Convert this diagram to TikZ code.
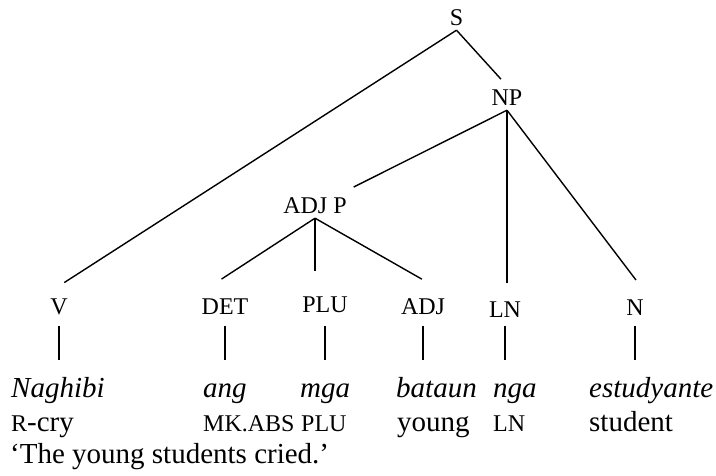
\documentclass[tikz,border=0pt]{standalone}
\usepackage{fontspec}
\setmainfont{Liberation Serif}
\usepackage{tikz}
\usetikzlibrary{calc}

\newcommand{\glsm}[1]{{\fontsize{24}{26}\selectfont #1}}

\begin{document}
\begin{tikzpicture}[x=1pt, y=-1pt,
  cat/.style={font=\fontsize{24}{26}\selectfont, text height=15.8pt, text depth=0pt, inner sep=0pt, outer sep=4.3pt},
  word/.style={anchor=base west, font=\fontsize{29}{32}\selectfont\itshape, text height=20pt, text depth=6pt, inner sep=0pt},
  gloss/.style={anchor=base west, font=\fontsize{29}{32}\selectfont, inner sep=0pt},
  branch/.style={line width=1.4pt},
  tick/.style={line width=1.4pt, shorten <=7pt, shorten >=17pt}]
\useasboundingbox (0,0) rectangle (716,476);
% tree
\node[cat] (S) at (456.5,18) {S};
\node[cat] (NP) at (507,98) {NP};
\node[cat] (ADJP) at (315,206) {ADJ P};
\node[cat] (V) at (59,306.5) {V};
\node[cat] (DET) at (225,307) {DET};
\node[cat] (PLU) at (325,305) {PLU};
\node[cat] (ADJ) at (423,307) {ADJ};
\node[cat] (LN) at (505,310) {LN};
\node[cat] (N) at (635,308) {N};
\draw[branch, shorten >=21.7pt] (S.south) -- (V.north west);
\draw[branch, shorten >=9pt] (S.south) -- (NP.north);
\draw[branch, shorten >=15.1pt] (NP.south) -- ($(ADJP.north)!0.7!(ADJP.north east)$);
\draw[branch, shorten >=14.75pt] (NP.south) -- (NP.south |- LN.north);
\draw[branch, shorten >=19.8pt] (NP.south) -- (N.north east);
\draw[branch, shorten >=28.8pt] (ADJP.south) -- (DET.north west);
\draw[branch, shorten >=21.75pt] (ADJP.south) -- (ADJP.south |- PLU.north);
\draw[branch, shorten >=31.6pt] (ADJP.south) -- (ADJ.north east);
% words and glosses
\node[word] (w1) at (11,397.5) {Naghibi};
\node[word] (w2) at (203,397.5) {ang};
\node[word] (w3) at (300,397.5) {mga};
\node[word] (w4) at (396,397.5) {bataun};
\node[word] (w5) at (493,397.5) {nga};
\node[word] (w6) at (589,397.5) {estudyante};
\node[gloss] (g1) at (11,431) {\glsm{R}-cry};
\node[gloss] (g2) at (203,431) {\glsm{MK.ABS}};
\node[gloss] (g3) at (301,431) {\glsm{PLU}};
\node[gloss] (g4) at (397,431) {young};
\node[gloss] (g5) at (493,431) {\glsm{LN}};
\node[gloss] (g6) at (589,431) {student};
\node[gloss] (tr) at (10,463) {‘The young students cried.’};
\draw[tick] (V.south) -- (V.south |- w1.north);
\draw[tick] (DET.south |- V.south) -- (DET.south |- w2.north);
\draw[tick] (PLU.south |- V.south) -- (PLU.south |- w3.north);
\draw[tick] (ADJ.south |- V.south) -- (ADJ.south |- w4.north);
\draw[tick] (LN.south |- V.south) -- (LN.south |- w5.north);
\draw[tick] (N.south |- V.south) -- (N.south |- w6.north);
\end{tikzpicture}
\end{document}
